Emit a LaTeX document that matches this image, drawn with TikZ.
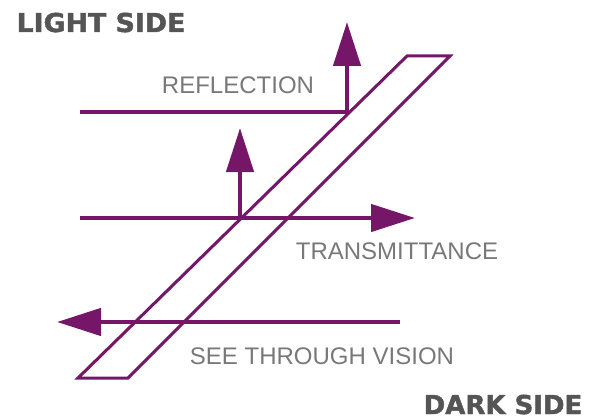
\documentclass[tikz,border=0pt]{standalone}
\usepackage{fontspec}
\setmainfont{Liberation Sans}
\newfontfamily\headfont{DejaVu Sans}[BoldFeatures={FakeBold=1.6}]
\usetikzlibrary{arrows.meta}
\definecolor{pur}{RGB}{118,22,104}
\definecolor{labgray}{RGB}{120,120,120}
\definecolor{headgray}{RGB}{85,85,85}
\tikzset{
  ray/.style={draw=pur, line width=4.5pt},
  rayarrow/.style={ray, -{Triangle[length=44pt,width=27pt]}},
  pane/.style={draw=pur, line width=3pt, line join=miter},
  lab/.style={inner sep=0pt, text height=17.2pt, text depth=0pt, text=labgray, font=\fontsize{24}{24}\selectfont},
  head/.style={inner sep=0pt, text height=19pt, text depth=0pt, text=headgray, font=\headfont\bfseries\fontsize{26}{26}\selectfont},
}
\begin{document}
\begin{tikzpicture}[x=1pt,y=-1pt]
\useasboundingbox (0,0) rectangle (598,420);
% pane corners
\coordinate (tl) at (407,56);
\coordinate (tr) at (450,56);
\coordinate (br) at (128,378);
\coordinate (bl) at (78,378);
% ray points
\coordinate (r0) at (80,112);
\coordinate (r1) at (349,112);
\coordinate (rt) at (347,22);
\coordinate (t0) at (80,218);
\coordinate (t1) at (415,218);
\coordinate (u0) at (240,218);
\coordinate (ut) at (240,128);
\coordinate (s0) at (400,322);
\coordinate (s1) at (57,322);
% pane
\draw[pane] (tl) -- (tr) -- (br) -- (bl) -- cycle;
% rays
\draw[ray] (r0) -- (r1);
\draw[rayarrow] ([yshift=2pt]r1 -| rt) -- (rt);
\draw[rayarrow] (t0) -- (t1);
\draw[rayarrow] ([yshift=2pt]u0) -- (ut);
\draw[rayarrow] (s0) -- (s1);
% labels
\node[lab] (reflection) at (238,85) {REFLECTION};
\node[lab] (transmittance) at (397,251) {TRANSMITTANCE};
\node[lab] (seethrough) at (322,356) {SEE THROUGH VISION};
\node[head, xscale=1.03] (light) at (101,22.5) {LIGHT SIDE};
\node[head] (dark) at (503,404.5) {DARK SIDE};
\end{tikzpicture}
\end{document}
